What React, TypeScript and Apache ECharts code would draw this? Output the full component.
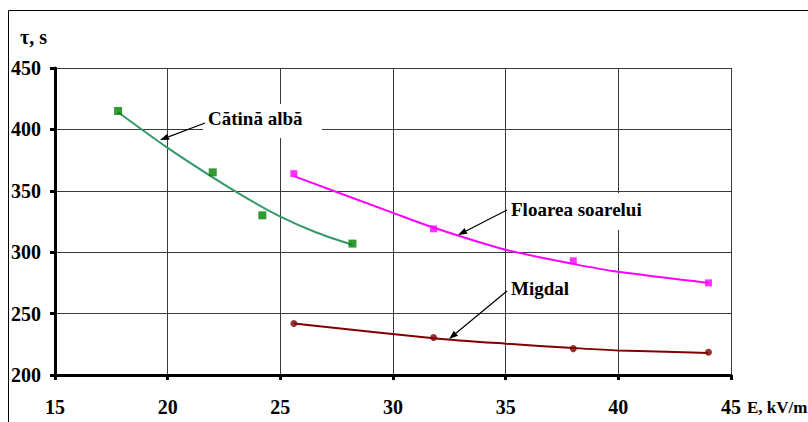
import React, { useEffect, useRef } from "react";
import * as echarts from "echarts";

// Cătină albă
const catinaX = [17.8, 22.0, 24.2, 28.2];
const catinaY = [415, 365, 330, 307];
const catinaTrendX = [17.8, 20, 22, 23.7, 25, 26.6, 28.2];
const catinaTrendY = [414, 385, 361, 342, 329, 316, 306];

// Floarea soarelui
const floareaX = [25.6, 31.8, 38.0, 44.0];
const floareaY = [364, 319, 293, 275];
const floareaTrendX = [25.6, 30, 31.8, 35, 38, 40, 44];
const floareaTrendY = [362, 332, 320, 302, 290.5, 284, 275];

// Migdal
const migdalX = [25.6, 31.8, 38.0, 44.0];
const migdalY = [242, 230.5, 221.5, 218.5];
const migdalTrendX = [25.6, 31.8, 35, 38, 40, 44];
const migdalTrendY = [242, 230, 225.5, 222, 220, 218];

const xTicks = [15, 20, 25, 30, 35, 40, 45];
const yTicks = [200, 250, 300, 350, 400, 450];

const FONT = "Liberation Serif";

const zip = (xs: number[], ys: number[]) => xs.map((x, i) => [x, ys[i]]);

function arrow(x1: number, y1: number, x2: number, y2: number) {
  const dx = x2 - x1;
  const dy = y2 - y1;
  const len = Math.sqrt(dx * dx + dy * dy);
  const ux = dx / len;
  const uy = dy / len;
  const hl = 9;
  const hw = 3.2;
  const bx = x2 - ux * hl;
  const by = y2 - uy * hl;
  return [
    {
      type: "line",
      z: 10,
      shape: { x1, y1, x2: bx, y2: by },
      style: { stroke: "#000", lineWidth: 1.2 },
    },
    {
      type: "polygon",
      z: 10,
      shape: {
        points: [
          [x2, y2],
          [bx - uy * hw, by + ux * hw],
          [bx + uy * hw, by - ux * hw],
        ],
      },
      style: { fill: "#000" },
    },
  ];
}

function label(text: string, x: number, y: number, bx: number, by: number, bw: number, bh: number) {
  return [
    {
      type: "rect",
      z: 1,
      shape: { x: bx, y: by, width: bw, height: bh },
      style: { fill: "#fff" },
    },
    {
      type: "text",
      z: 10,
      x,
      y,
      style: {
        text,
        fontFamily: FONT,
        fontWeight: "bold",
        fontSize: 19,
        fill: "#000",
        verticalAlign: "middle",
      },
    },
  ];
}

export default function App() {
  const ref = useRef<HTMLDivElement>(null);
  useEffect(() => {
    if (!ref.current) return;
    const chart = echarts.init(ref.current, undefined, { renderer: "svg" });
    const axisCommon = {
      axisLine: { show: true, lineStyle: { color: "#000", width: 3 } },
      axisTick: { show: true, inside: false, length: 5, lineStyle: { color: "#000", width: 3 } },
      splitLine: { show: true, lineStyle: { color: "#3a3a3a", width: 1 } },
    };
    const trendCommon = {
      type: "line",
      smooth: 0.3,
      showSymbol: false,
      symbol: "none",
      z: 3,
    };
    chart.setOption({
      animation: false,
      backgroundColor: "#fff",
      grid: { left: 55, right: 77, top: 68, bottom: 47, containLabel: false },
      xAxis: {
        type: "value",
        min: 15,
        max: 45,
        interval: 5,
        ...axisCommon,
        axisLabel: {
          margin: 22,
          color: "#000",
          fontFamily: FONT,
          fontWeight: "bold",
          fontSize: 20,
          formatter: (v: number) => (xTicks.includes(v) ? String(v) : ""),
        },
      },
      yAxis: {
        type: "value",
        min: 200,
        max: 450,
        interval: 50,
        ...axisCommon,
        axisLabel: {
          margin: 14,
          color: "#000",
          fontFamily: FONT,
          fontWeight: "bold",
          fontSize: 20,
          formatter: (v: number) => (yTicks.includes(v) ? String(v) : ""),
        },
      },
      series: [
        {
          ...trendCommon,
          name: "Cătină albă trend",
          data: zip(catinaTrendX, catinaTrendY),
          lineStyle: { color: "#339966", width: 2 },
        },
        {
          type: "scatter",
          name: "Cătină albă",
          data: zip(catinaX, catinaY),
          symbol: "rect",
          symbolSize: 8,
          itemStyle: { color: "#008000" },
          z: 4,
        },
        {
          ...trendCommon,
          name: "Floarea soarelui trend",
          data: zip(floareaTrendX, floareaTrendY),
          lineStyle: { color: "#ff00ff", width: 2 },
        },
        {
          type: "scatter",
          name: "Floarea soarelui",
          data: zip(floareaX, floareaY),
          symbol: "rect",
          symbolSize: 7,
          itemStyle: { color: "#ff00ff" },
          z: 4,
        },
        {
          ...trendCommon,
          name: "Migdal trend",
          data: zip(migdalTrendX, migdalTrendY),
          lineStyle: { color: "#800000", width: 2 },
        },
        {
          type: "scatter",
          name: "Migdal",
          data: zip(migdalX, migdalY),
          symbol: "circle",
          symbolSize: 7,
          itemStyle: { color: "#800000" },
          z: 4,
        },
      ],
      graphic: [
        {
          type: "rect",
          z: 0,
          shape: { x: 8.5, y: 10.5, width: 900, height: 500 },
          style: { fill: "none", stroke: "#000", lineWidth: 1 },
        },
        {
          type: "text",
          z: 10,
          x: 20,
          y: 37,
          style: { text: "τ, s", fontFamily: FONT, fontWeight: "bold", fontSize: 20, fill: "#000", verticalAlign: "middle" },
        },
        {
          type: "text",
          z: 10,
          x: 747,
          y: 407,
          style: { text: "E, kV/m", fontFamily: FONT, fontWeight: "bold", fontSize: 17, fill: "#000", verticalAlign: "middle" },
        },
        ...label("Cătină albă", 208, 118, 203, 104, 119, 34),
        ...arrow(205, 123, 160, 140),
        ...label("Floarea soarelui", 511, 209, 506, 193, 144, 37),
        ...arrow(507, 210, 458, 235),
        ...label("Migdal", 511, 288, 506, 272, 70, 36),
        ...arrow(507, 291, 449, 339),
      ],
    });
    return () => chart.dispose();
  }, []);
  return (
    <div
      ref={ref}
      style={{ position: "fixed", left: 0, top: 0, width: 808, height: 422 }}
    />
  );
}
